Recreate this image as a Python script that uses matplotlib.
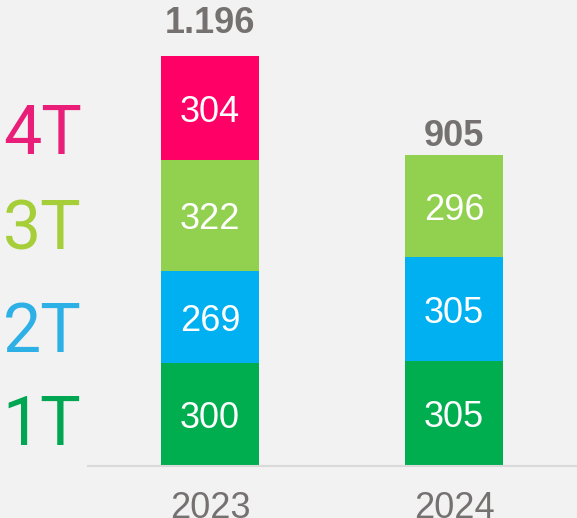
import matplotlib.pyplot as plt
import numpy as np

plt.rcParams['font.family'] = ['Liberation Sans', 'DejaVu Sans']

years = ['2023', '2024']
quarters = ['1T', '2T', '3T', '4T']
q1 = [300, 305]
q2 = [269, 305]
q3 = [322, 296]
q4 = [304, 0]
totals = ['1.196', '905']

bar_colors = ['#00AE4F', '#00B0F0', '#92D050', '#FF0066']
label_colors = ['#00A651', '#2DB0E6', '#A6CE39', '#E91E78']
gray = '#767171'
bg = '#F2F2F2'

fig = plt.figure(figsize=(5.77, 5.18), dpi=100, facecolor=bg)
ax = fig.add_axes([0.1525, 0.1004, 0.8458, 0.7946])
ax.set_facecolor(bg)

x = np.arange(len(years))
bottom = np.zeros(len(years))
for vals, col in zip([q1, q2, q3, q4], bar_colors):
    vals = np.array(vals)
    ax.bar(x, vals, 0.4, bottom=bottom, color=col, edgecolor='none')
    for xi, v, b in zip(x, vals, bottom):
        if v > 0:
            ax.text(xi, b + v / 2 - 12, str(v), ha='center', va='center',
                    color='white', fontsize=26)
    bottom = bottom + vals

# gap between bar top and total label (as in the original slide)
tot_gap = [45, 4]
for xi, tot, t, g in zip(x, bottom, totals, tot_gap):
    ax.text(xi, tot + g, t, ha='center', va='bottom', color=gray,
            fontsize=26, fontweight='bold')

ax.set_xlim(-0.5, 1.5)
ax.set_ylim(0, 1200)
for s in ['top', 'right', 'left']:
    ax.spines[s].set_visible(False)
ax.spines['bottom'].set_color('#D9D9D9')
ax.spines['bottom'].set_linewidth(1.5)
ax.set_yticks([])
ax.set_xticks(x)
ax.set_xticklabels(years, fontsize=26, color=gray)
ax.tick_params(axis='x', length=0, pad=18)

# quarter labels on the left
label_y = [117, 388, 688, 965]
for q, yy, c in zip(quarters, label_y, label_colors):
    fig.text(0.073, ax.transData.transform((0, yy))[1] / fig.bbox.height,
             q, ha='center', va='center', color=c, fontsize=49,
             family='Roboto')

fig.savefig('out.png', dpi=100, facecolor=bg)
